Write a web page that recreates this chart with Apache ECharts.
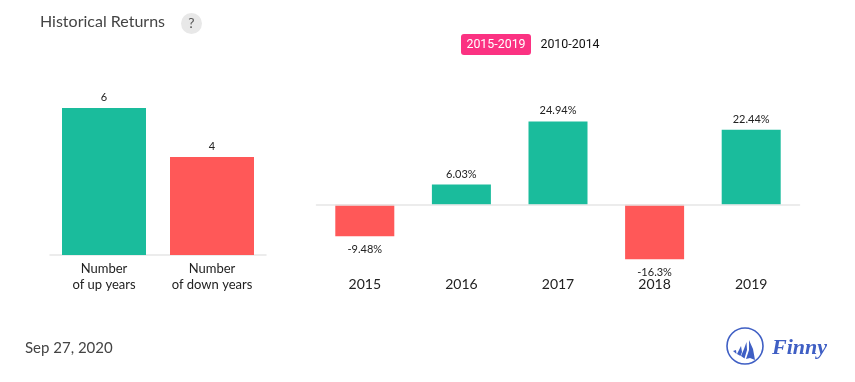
<!DOCTYPE html>
<html><head><meta charset="utf-8">
<style>html,body{margin:0;padding:0;background:#fff}#c{width:855px;height:382px}</style>
<script src="https://cdn.jsdelivr.net/npm/echarts@6/dist/echarts.min.js"></script></head>
<body><div id="c"></div>
<script>
const countCategories = ['Number\nof up years', 'Number\nof down years'];
const countValues = [6, 4];
const yearCategories = ['2015', '2016', '2017', '2018', '2019'];
const yearReturns = [-9.48, 6.03, 24.94, -16.3, 22.44];
const UP = '#1abc9c', DOWN = '#ff5858', FONT = 'Lato', AXIS = '#e6e6e6', INK = '#222', LOGO = '#3f5fc4';

const chart = echarts.init(document.getElementById('c'), null, {renderer: 'canvas'});
chart.setOption({
  animation: false,
  textStyle: {fontFamily: FONT},
  grid: [
    {left: 50, width: 216, top: 108, height: 147},
    {left: 316.5, width: 483, top: 104.5, height: 167}
  ],
  xAxis: [
    {type: 'category', gridIndex: 0, data: countCategories,
      axisLine: {lineStyle: {color: AXIS, width: 1.5}}, axisTick: {show: false},
      axisLabel: {interval: 0, hideOverlap: false, color: INK, fontSize: 13, lineHeight: 16, margin: 6, fontFamily: FONT}},
    {type: 'category', gridIndex: 1, z: 3, data: yearCategories,
      axisLine: {onZero: true, lineStyle: {color: AXIS, width: 1.5}}, axisTick: {show: false},
      axisLabel: {interval: 0, color: INK, fontSize: 14, margin: 6, fontFamily: FONT}}
  ],
  yAxis: [
    {type: 'value', gridIndex: 0, min: 0, max: 6, show: false},
    {type: 'value', gridIndex: 1, min: -20, max: 30, show: false}
  ],
  series: [
    {type: 'bar', xAxisIndex: 0, yAxisIndex: 0, barWidth: 84,
      data: countValues.map((v, i) => ({value: v, itemStyle: {color: i === 0 ? UP : DOWN}})),
      label: {show: true, position: 'top', distance: 5, color: INK, fontSize: 11, fontFamily: FONT}},
    {type: 'bar', xAxisIndex: 1, yAxisIndex: 1, barWidth: 59,
      data: yearReturns.map(v => ({value: v, itemStyle: {color: v >= 0 ? UP : DOWN},
        label: {distance: v >= 0 ? 5 : 8}})),
      label: {show: true, position: 'outside', color: INK, fontSize: 11, fontFamily: FONT,
        formatter: p => p.value + '%'}}
  ],
  graphic: [
    {type: 'text', left: 40, top: 14, style: {text: 'Historical Returns', font: '16px Lato', fill: '#444'}},
    {type: 'circle', shape: {cx: 191.5, cy: 23.5, r: 10.5}, style: {fill: '#e8e8e8'}},
    {type: 'text', x: 191.5, y: 23.5, style: {text: '?', font: '14px Lato', fill: '#555', align: 'center', verticalAlign: 'middle'}},
    {type: 'rect', shape: {x: 461, y: 34, width: 70, height: 21, r: 3}, style: {fill: '#fb3282'}},
    {type: 'text', x: 496, y: 44.5, style: {text: '2015-2019', font: '12.4px Roboto', fill: '#fff', align: 'center', verticalAlign: 'middle'}},
    {type: 'text', x: 570, y: 44.5, style: {text: '2010-2014', font: '12.4px Roboto', fill: '#111', align: 'center', verticalAlign: 'middle'}},
    {type: 'text', left: 25, top: 341, style: {text: 'Sep 27, 2020', font: '15px Lato', fill: '#444'}},
    {type: 'circle', shape: {cx: 745, cy: 346, r: 18}, style: {fill: 'none', stroke: LOGO, lineWidth: 1.6}},
    {type: 'polygon', shape: {points: [[749,340],[753,349],[755,360],[750,358],[746,359],[749,350]]}, style: {fill: LOGO}},
    {type: 'polygon', shape: {points: [[746.5,342],[747,350],[744.5,358.5],[741,356],[744,349]]}, style: {fill: LOGO}},
    {type: 'polygon', shape: {points: [[741,346],[742,352],[740.5,356],[737,354],[739,350]]}, style: {fill: LOGO}},
    {type: 'polygon', shape: {points: [[736,350],[736.5,354],[733,351]]}, style: {fill: LOGO}},
    {type: 'text', x: 772, y: 348, style: {text: 'Finny', font: 'italic bold 22px "Liberation Serif"', fill: LOGO, verticalAlign: 'middle'}}
  ]
});
</script></body></html>
